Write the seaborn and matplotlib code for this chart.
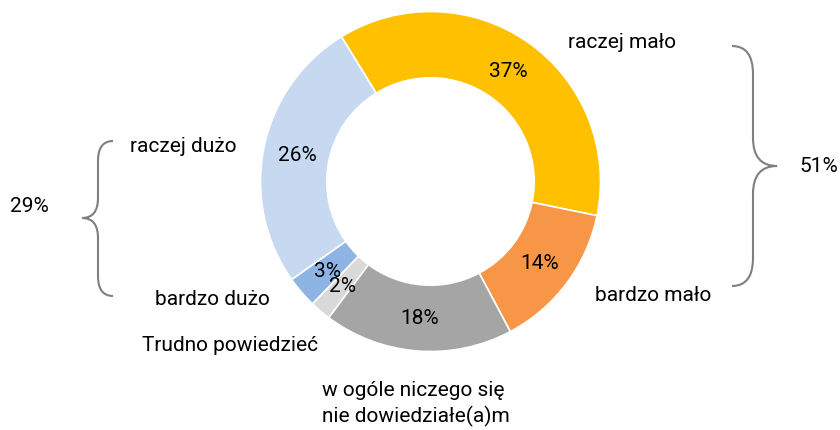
import matplotlib
matplotlib.use("Agg")
import matplotlib.pyplot as plt
import seaborn as sns
from matplotlib.path import Path
from matplotlib.patches import PathPatch

sns.set_theme(style="white")
plt.rcParams['font.family'] = ['Roboto', 'DejaVu Sans']
plt.rcParams['text.color'] = 'black'

# data (clockwise from the top-left)
labels = ['raczej mało', 'bardzo mało', 'w ogóle niczego się\nnie dowiedziałe(a)m',
          'Trudno powiedzieć', 'bardzo dużo', 'raczej dużo']
values = [37, 14, 18, 2, 3, 26]
colors = ['#FFC000', '#F79646', '#A5A5A5', '#D9D9D9', '#8EB4E3', '#C6D9F1']
group_labels = ['51%', '29%']

W, H = 840, 431
fig = plt.figure(figsize=(W / 100, H / 100), dpi=100)

# donut: centre (430.5, 182.5) px, radius 170 px
cx, cy, R = 430.5, 182.5, 170
ax = fig.add_axes([(cx - R) / W, (H - cy - R) / H, 2 * R / W, 2 * R / H])
wedges, _, autotexts = ax.pie(values, colors=colors, startangle=121.6, counterclock=False,
                              autopct='%d%%', pctdistance=0.8,
                              wedgeprops=dict(width=0.39, edgecolor='white', linewidth=1.2),
                              textprops=dict(fontsize=15, color='black'))
ax.set_xlim(-1, 1)
ax.set_ylim(-1, 1)
ax.axis('off')

# overlay in pixel coords for category labels and braces
ov = fig.add_axes([0, 0, 1, 1])
ov.set_xlim(0, W)
ov.set_ylim(H, 0)
ov.axis('off')
ov.patch.set_alpha(0)

fs = 15
ov.text(568, 43, labels[0], fontsize=fs, va='center', ha='left')
ov.text(595, 296, labels[1], fontsize=fs, va='center', ha='left')
ov.text(322, 404, labels[2], fontsize=fs, va='center', ha='left', linespacing=1.3)
ov.text(318, 346, labels[3], fontsize=fs, va='center', ha='right')
ov.text(270, 300, labels[4], fontsize=fs, va='center', ha='right')
ov.text(237, 147, labels[5], fontsize=fs, va='center', ha='right')
ov.text(838, 167, group_labels[0], fontsize=fs, va='center', ha='right')
ov.text(10, 207, group_labels[1], fontsize=fs, va='center', ha='left')


def brace(x_end, x_line, x_tip, y_top, y_mid, y_bot, r=18):
    verts = [(x_end, y_top), (x_line, y_top), (x_line, y_top + r),
             (x_line, y_mid - r),
             (x_line, y_mid), (x_tip, y_mid),
             (x_line, y_mid), (x_line, y_mid + r),
             (x_line, y_bot - r),
             (x_line, y_bot), (x_end, y_bot)]
    codes = [Path.MOVETO, Path.CURVE3, Path.CURVE3,
             Path.LINETO,
             Path.CURVE3, Path.CURVE3,
             Path.CURVE3, Path.CURVE3,
             Path.LINETO,
             Path.CURVE3, Path.CURVE3]
    ov.add_patch(PathPatch(Path(verts, codes), facecolor='none',
                           edgecolor='#7f7f7f', linewidth=1.5))


brace(732, 753, 777, 47, 167, 287, r=28)
brace(113, 98, 82, 142, 219, 297, r=20)

fig.savefig('out.png', dpi=100)
